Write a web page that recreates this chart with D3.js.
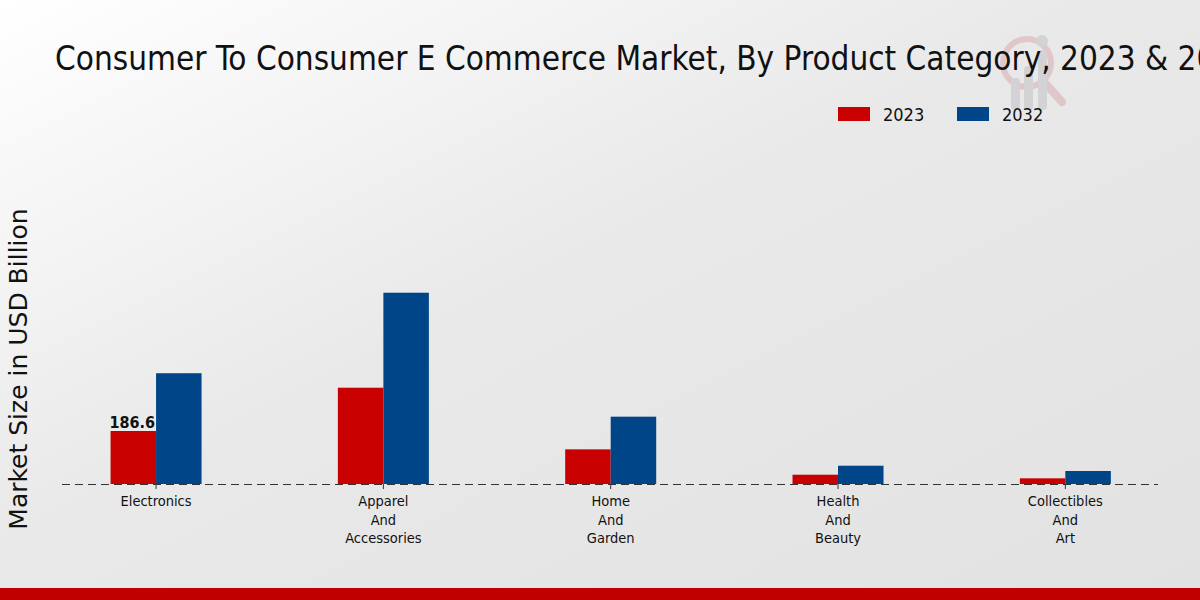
<!DOCTYPE html>
<html><head><meta charset="utf-8">
<script src="https://cdn.jsdelivr.net/npm/d3@7"></script>
<style>html,body{margin:0;padding:0;overflow:hidden;}</style>
</head><body>
<svg id="chart" width="1200" height="600"></svg>
<script>
const categories = ["Electronics", "Apparel\nAnd\nAccessories", "Home\nAnd\nGarden", "Health\nAnd\nBeauty", "Collectibles\nAnd\nArt"];
const seriesNames = ["2023", "2032"];
const values2023 = [186.6, 339.0, 122.0, 32.7, 20.0];
const values2032 = [390.0, 673.5, 237.0, 64.4, 45.8];
const colors = ["#c80000", "#004587"];
const labelValue = "186.6";

const svg = d3.select("#chart");
const W = 1200, H = 600;
const defs = svg.append("defs");
const grad = defs.append("linearGradient").attr("id","bg").attr("x1","0%").attr("y1","0%").attr("x2","100%").attr("y2","100%");
grad.append("stop").attr("offset","0%").attr("stop-color","#ffffff");
grad.append("stop").attr("offset","45%").attr("stop-color","#e9e9e9");
grad.append("stop").attr("offset","100%").attr("stop-color","#e2e2e2");
svg.append("rect").attr("width",W).attr("height",H).attr("fill","url(#bg)");

// watermark
const wm = svg.append("g").attr("opacity",0.22);
wm.append("circle").attr("cx",1027).attr("cy",63).attr("r",24).attr("fill","none").attr("stroke","#c8505f").attr("stroke-width",6);
wm.append("line").attr("x1",1045).attr("y1",83).attr("x2",1062).attr("y2",102).attr("stroke","#c8505f").attr("stroke-width",8).attr("stroke-linecap","round");
[[1011,78],[1024,66],[1038,50]].forEach(([x,yy])=>{
  wm.append("rect").attr("x",x).attr("y",yy).attr("width",9).attr("height",110-yy).attr("rx",4).attr("fill","#8a8a96");
});
wm.append("circle").attr("cx",1042).attr("cy",41).attr("r",6).attr("fill","#8a8a96");

// title
svg.append("text").attr("x",55).attr("y",70)
  .attr("font-family","'DejaVu Sans Condensed', 'DejaVu Sans', sans-serif")
  .attr("font-stretch","condensed")
  .attr("font-size",33).attr("fill","#111")
  .text("Consumer To Consumer E Commerce Market, By Product Category, 2023 & 2032");

// legend
const leg = svg.append("g");
const legX = [838, 957];
seriesNames.forEach((s,i)=>{
  leg.append("rect").attr("x",legX[i]).attr("y",107).attr("width",32).attr("height",14).attr("fill",colors[i]);
  leg.append("text").attr("x",legX[i]+45).attr("y",121)
    .attr("font-family","'DejaVu Sans Condensed', 'DejaVu Sans', sans-serif").attr("font-stretch","condensed")
    .attr("font-size",18).attr("fill","#111").text(s);
});

// y label
svg.append("text").attr("transform","translate(27,369) rotate(-90)")
  .attr("text-anchor","middle").attr("font-family","'DejaVu Sans', sans-serif")
  .attr("font-size",25).attr("fill","#111").text("Market Size in USD Billion");

// scales
const x0 = d3.scaleBand().domain(categories).range([42.4, 1179]).paddingInner(0).paddingOuter(0);
const baseY = 484;
const y = d3.scaleLinear().domain([0, 186.6]).range([baseY, 431]);
const barW = 45.5;

const data = categories.map((c,i)=>({cat:c, vals:[values2023[i], values2032[i]]}));
const g = svg.append("g");
data.forEach(d=>{
  const cx = x0(d.cat) + x0.bandwidth()/2;
  d.vals.forEach((v,j)=>{
    g.append("rect").attr("x", cx - barW + j*barW).attr("y", y(v))
      .attr("width", barW).attr("height", baseY - y(v)).attr("fill", colors[j]);
  });
});

// value label
svg.append("text").attr("x", x0(categories[0]) + x0.bandwidth()/2 - 1).attr("y", y(values2023[0]) - 3)
  .attr("text-anchor","end").attr("font-family","'DejaVu Sans Condensed', 'DejaVu Sans', sans-serif")
  .attr("font-stretch","condensed").attr("font-weight","bold")
  .attr("font-size",16).attr("fill","#111").text(labelValue);

// baseline dashed
svg.append("line").attr("x1",62).attr("x2",1158).attr("y1",baseY+0.5).attr("y2",baseY+0.5)
  .attr("stroke","#333").attr("stroke-width",1).attr("stroke-dasharray","8,5");

// x axis
const xAxis = svg.append("g").attr("transform",`translate(0,${baseY})`)
  .call(d3.axisBottom(x0).tickSize(5).tickFormat(""));
xAxis.select(".domain").remove();
xAxis.selectAll(".tick line").attr("stroke","#333");
xAxis.selectAll(".tick").each(function(d){
  const lines = d.split("\n");
  const t = d3.select(this).append("text").attr("fill","#111").attr("text-anchor","middle")
    .attr("font-family","'DejaVu Sans Condensed', 'DejaVu Sans', sans-serif").attr("font-stretch","condensed")
    .attr("font-size",14.5);
  lines.forEach((l,k)=>t.append("tspan").attr("x",0).attr("y",22 + k*18.5).text(l));
});

// bottom band
svg.append("rect").attr("x",0).attr("y",588).attr("width",W).attr("height",12).attr("fill","#c00000");
</script>
</body></html>
